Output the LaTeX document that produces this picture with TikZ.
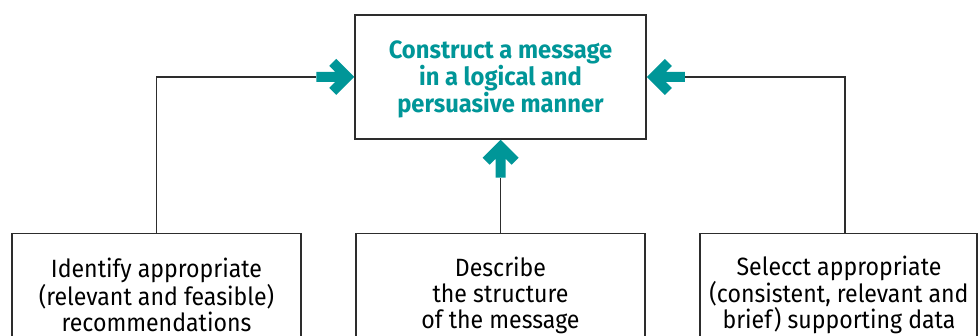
\documentclass[tikz,border=0pt]{standalone}
\usepackage{fontspec}
\setmainfont{Fira Sans}
\newfontfamily\bodyf{Fira Sans}[FakeStretch=0.925]
\newfontfamily\headf{Fira Sans}[FakeStretch=0.95]
\definecolor{tealc}{RGB}{0,150,152}
\definecolor{linec}{RGB}{45,45,45}
\tikzset{
  box/.style={draw=linec, line width=1.5pt, fill=white, inner sep=0pt},
  btext/.style={align=center, text=black, inner sep=0pt, font=\bodyf\fontsize{25}{26}\selectfont},
  ttext/.style={align=center, text=tealc, inner sep=0pt, font=\headf\fontsize{25}{27}\selectfont\bfseries},
  conn/.style={draw=linec, line width=1.5pt},
  tarrow/.pic={\fill[tealc] (0,0) -- (-18,18) -- (-25,11) -- (-19,5) -- (-38,5) -- (-38,-5) -- (-19,-5) -- (-25,-11) -- (-18,-18) -- cycle;}
}
\begin{document}
\begin{tikzpicture}[x=1pt,y=-1pt]
\useasboundingbox (0,0) rectangle (980,336);
\clip (0,0) rectangle (980,336);
\node[box, minimum width=291pt, minimum height=124pt] (top) at (500.5,77) {};
\node[ttext] (ttx) at (500.5,79) {Construct a message\\in a logical and\\persuasive manner};
\node[box, minimum width=289pt, minimum height=130pt, anchor=north] (lbox) at (156.5,233) {};
\node[box, minimum width=289pt, minimum height=130pt, anchor=north] (mbox) at (500.5,233) {};
\node[box, minimum width=277pt, minimum height=130pt, anchor=north] (rbox) at (838.5,233) {};
\node[btext] (ltx) at (156.5,295) {Identify appropriate\\(relevant and feasible)\\recommendations};
\node[btext] (mtx) at (500.5,295) {Describe\\the structure\\of the message};
\node[btext] (rtx) at (839,295) {Selecct appropriate\\(consistent, relevant and\\brief) supporting data};
\coordinate (la) at ([xshift=-38pt]top.west);
\coordinate (ma) at ([yshift=-38pt]top.south);
\coordinate (ra) at ([xshift=38pt]top.east);
\draw[conn] (lbox.north) |- (la);
\draw[conn] (mbox.north) -- (ma);
\draw[conn] ([xshift=6.5pt]rbox.north) |- (ra);
\pic at (top.west) {tarrow};
\pic[rotate=90] at (top.south) {tarrow};
\pic[rotate=180] at (top.east) {tarrow};
\end{tikzpicture}
\end{document}
